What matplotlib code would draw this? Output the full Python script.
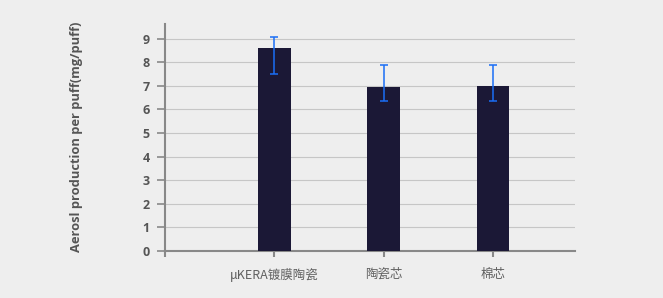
import matplotlib.pyplot as plt

# Data
categories = ["μKERA镀膜陶瓷", "陶瓷芯", "棉芯"]
values = [8.62, 6.97, 7.01]
err_low = [7.52, 6.37, 6.37]    # lower end of error bar
err_high = [9.08, 7.87, 7.87]   # upper end of error bar
y_ticks = [0, 1, 2, 3, 4, 5, 6, 7, 8, 9]

bg = "#eeeeee"
text_col = "#555555"

fig = plt.figure(figsize=(6.63, 2.98), dpi=100, facecolor=bg)
ax = fig.add_axes([165 / 663, 47 / 298, 410 / 663, 227 / 298], facecolor=bg)

x = [1, 2, 3]
yerr = [[v - lo for v, lo in zip(values, err_low)],
        [hi - v for v, hi in zip(values, err_high)]]

ax.bar(x, values, width=0.3, color="#1b1836", zorder=3)
ax.errorbar(x, values, yerr=yerr, fmt="none", ecolor="#1a6ef5",
            elinewidth=1.1, capsize=3.2, capthick=1.1, zorder=4)

ax.set_xlim(0, 3.75)
ax.set_ylim(0, 9.62)

# Grid and spines
ax.set_yticks(y_ticks)
ax.yaxis.grid(True, color="#c6c6c6", linewidth=0.8, zorder=0)
for side in ["top", "right"]:
    ax.spines[side].set_visible(False)
for side in ["left", "bottom"]:
    ax.spines[side].set_color("#888888")
    ax.spines[side].set_linewidth(1.5)

ax.set_xticks([0, 1, 2, 3])
ax.set_xticklabels([""] + categories, family=["Noto Sans CJK SC", "DejaVu Sans"],
                   fontsize=9, color="#606060")
ax.tick_params(axis="x", length=4, width=1.5, color="#888888", pad=8)
ax.tick_params(axis="y", length=6, width=1.2, color="#888888", pad=5,
               labelsize=9, labelcolor=text_col)
for lbl in ax.get_yticklabels():
    lbl.set_fontfamily("Open Sans")
    lbl.set_fontweight("bold")

ax.set_ylabel("Aerosl production per puff(mg/puff)", family="Open Sans",
              fontweight="bold", fontsize=9.3, color=text_col)
ax.yaxis.set_label_coords(-0.2, 0.504)

plt.savefig("out.png", dpi=100, facecolor=bg)
